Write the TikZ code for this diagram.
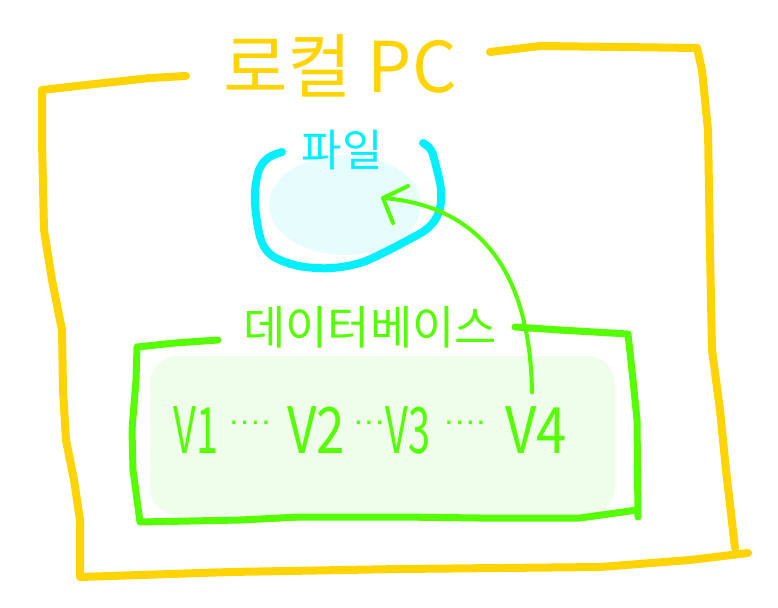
\documentclass[tikz,border=0pt]{standalone}
\usepackage{fontspec}
\newfontfamily\kr{Noto Sans CJK KR}
\newfontfamily\lat{Liberation Sans}
\definecolor{pcyellow}{HTML}{FFD400}
\definecolor{filecyan}{HTML}{00F0FF}
\definecolor{dbgreen}{HTML}{55FF00}
\definecolor{filefill}{HTML}{E6FCFD}
\definecolor{dbfill}{HTML}{EFFDEB}
\begin{document}
\begin{tikzpicture}[x=1pt,y=-1pt,line cap=round,line join=round,
  frame/.style={draw=pcyellow,line width=8pt},
  filestroke/.style={draw=filecyan,line width=8pt},
  dbstroke/.style={draw=dbgreen,line width=7pt},
  link/.style={draw=dbgreen,line width=4pt},
  titletext/.style={text=pcyellow,font=\kr\fontsize{70}{74}\selectfont,inner sep=0pt},
  filetext/.style={text=filecyan,font=\kr\fontsize{44}{48}\selectfont,inner sep=0pt},
  dbtext/.style={text=dbgreen,font=\kr\fontsize{46}{50}\selectfont,inner sep=0pt},
  vertext/.style={text=dbgreen,font=\kr\fontsize{64}{68}\selectfont,inner sep=0pt},
  dottext/.style={text=dbgreen,font=\lat\fontsize{32}{36}\selectfont,inner sep=0pt}]
\useasboundingbox (0,0) rectangle (778,607);
\fill[white] (0,0) rectangle (778,607);
% soft fills
\fill[filefill] (345,205) ellipse [x radius=76pt, y radius=50pt];
\fill[dbfill,rounded corners=28pt] (150,356) rectangle (615,515);
% local PC frame
\draw[frame] (186,76) -- (150,78) -- (95,84) -- (42,90) -- (42,140) -- (44,230) -- (52,280) -- (62,330) -- (63,390) -- (66,440) -- (74,480) -- (80,520) -- (80,577) -- (140,575) -- (230,572) -- (400,569) -- (600,567) -- (690,560) -- (748,553);
\draw[frame] (490,52) -- (540,46) -- (620,47) -- (697,48) -- (702,70) -- (708,130) -- (710,250) -- (712,350) -- (720,410) -- (726,470) -- (735,548);
\node[titletext] (title) at (340,66) {로컬 PC};
% file
\draw[filestroke] plot[smooth,tension=0.6] coordinates {(282,152) (268,158) (259,170) (255,192) (256,214) (261,240) (270,254) (285,262) (305,267) (332,268) (360,263) (385,252) (408,240) (428,228) (439,212) (441,190) (436,166) (431,150) (423,143)};
\node[filetext] (file) at (342,150) {파일};
\coordinate (filetip) at (383,198);
% database
\draw[dbstroke] (218,340) -- (175,343) -- (137,347) -- (136,380) -- (132,430) -- (133,470) -- (140,522) -- (240,520) -- (300,517) -- (400,517) -- (480,518) -- (580,518) -- (637,510);
\draw[dbstroke] (515,327) -- (560,330) -- (628,334) -- (633,380) -- (637,420) -- (638,517);
\node[dbtext] (db) at (370,327) {데이터베이스};
\node[vertext] (v1) at (196,430) {\scalebox{0.62}[1]{V1}};
\node[dottext] (d1) at (250,426) {····};
\node[vertext] (v2) at (316,430) {\scalebox{0.8}[1]{V2}};
\node[dottext] (d2) at (369,426) {···};
\node[vertext] (v3) at (408,430) {\scalebox{0.62}[1]{V3}};
\node[dottext] (d3) at (465,426) {····};
\node[vertext] (v4) at (536,430) {\scalebox{0.85}[1]{V4}};
% arrow V4 -> file
\draw[link] ([xshift=-4pt,yshift=14pt]v4.north) .. controls (530,260) and (470,205) .. (filetip);
\draw[link] ([xshift=25pt,yshift=12pt]filetip) -- (filetip) -- ([xshift=10pt,yshift=-25pt]filetip);
\end{tikzpicture}
\end{document}
